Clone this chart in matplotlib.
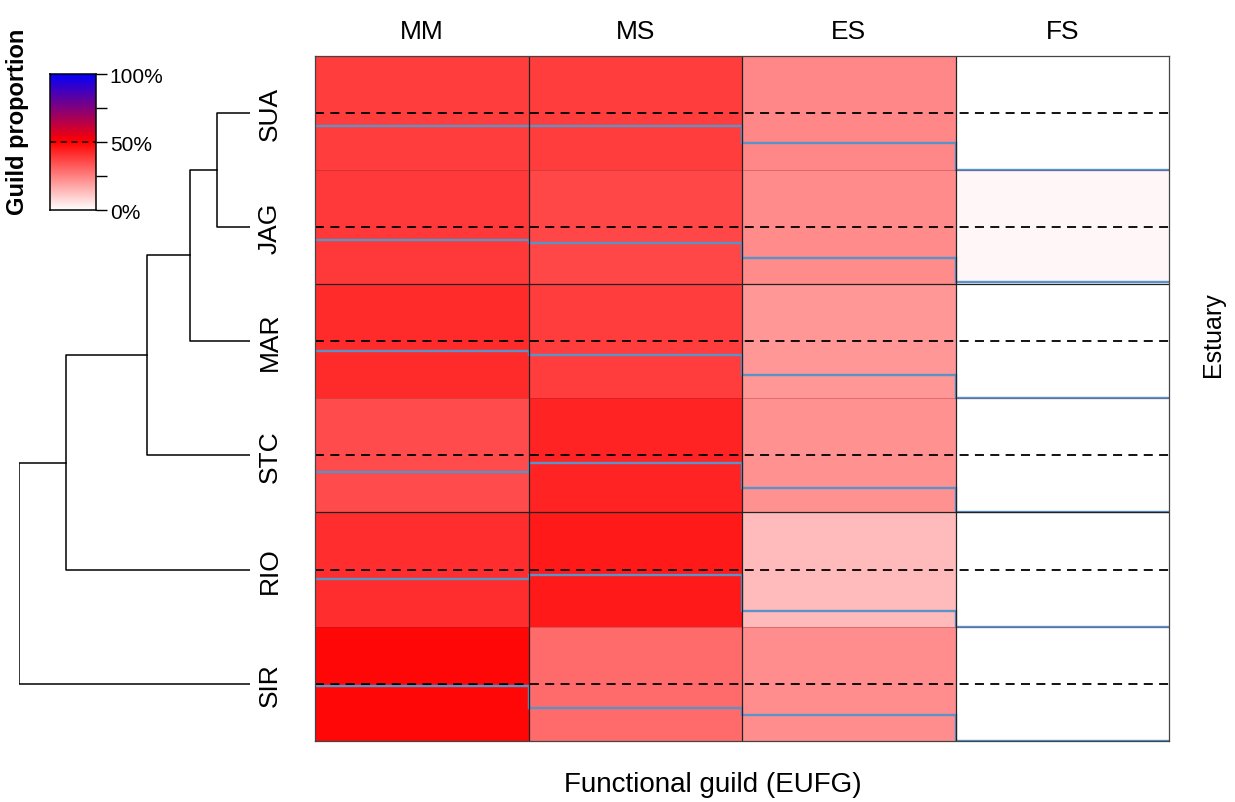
import numpy as np
import matplotlib.pyplot as plt
from matplotlib.colors import LinearSegmentedColormap

plt.rcParams['font.family'] = ['Liberation Sans', 'DejaVu Sans']

estuaries = ['SUA', 'JAG', 'MAR', 'STC', 'RIO', 'SIR']
guilds = ['MM', 'MS', 'ES', 'FS']

# proportion of each guild in every estuary (rows sum to ~1)
mm = [0.379, 0.388, 0.415, 0.355, 0.414, 0.485]
ms = [0.379, 0.361, 0.380, 0.430, 0.450, 0.290]
es = [0.236, 0.230, 0.205, 0.215, 0.136, 0.225]
fs = [0.000, 0.017, 0.000, 0.000, 0.000, 0.000]

# row dendrogram: (left id, right id, height); ids >= 6 are earlier merges
merges = [(0, 1, 0.143), (6, 2, 0.26), (7, 3, 0.446), (8, 4, 0.797), (9, 5, 1.0)]

key_ticks = [0, 0.25, 0.5, 0.75, 1.0]
key_labels = ['0%', '', '50%', '', '100%']

data = np.column_stack([mm, ms, es, fs])
nrow, ncol = data.shape
cmap = LinearSegmentedColormap.from_list('wrb', ['white', 'red', 'blue'])

fig = plt.figure(figsize=(12.35, 8.03), dpi=100)
fig.patch.set_facecolor('white')

hm_box = [0.2551, 0.0760, 0.6915, 0.8536]

# heatmap
ax = fig.add_axes(hm_box)
ax.pcolormesh(np.arange(ncol + 1), np.arange(nrow + 1), data,
              cmap=cmap, vmin=0, vmax=1)
ax.set_xlim(0, ncol)
ax.set_ylim(nrow, 0)
for c in range(1, ncol):
    ax.axvline(c, color='#222222', lw=0.9)
for r in range(1, nrow):
    if r % 2 == 0:
        ax.axhline(r, color='#222222', lw=0.9)
    else:
        ax.axhline(r, color='#8b1a1a', lw=0.6, alpha=0.35)
for i in range(nrow):
    ax.hlines(i + 0.5, 0, ncol, colors='k', linestyles=(0, (5, 3.5)), lw=1.3)
    ax.stairs(i + 1 - data[i], np.arange(ncol + 1), baseline=None,
              color='#5a93c8', lw=1.7)
for s in ax.spines.values():
    s.set_color('#444444')
    s.set_linewidth(0.9)

ax.xaxis.tick_top()
ax.set_xticks(np.arange(ncol) + 0.5, guilds, fontsize=19)
ax.set_yticks(np.arange(nrow) + 0.5, estuaries, fontsize=19,
              rotation=90, va='center')
ax.tick_params(axis='x', length=0, pad=9)
ax.tick_params(axis='y', length=0, pad=24)

# dendrogram
ad = fig.add_axes([0.0154, hm_box[1], 0.1870, hm_box[3]])
pos = {i: (0.0, i + 0.5) for i in range(nrow)}
for k, (a, b, h) in enumerate(merges):
    xa, ya = pos[a]
    xb, yb = pos[b]
    ad.plot([xa, h, h, xb], [ya, ya, yb, yb], color='k', lw=1.1)
    pos[nrow + k] = (h, (ya + yb) / 2)
ad.set_xlim(1.0, 0)
ad.set_ylim(nrow, 0)
ad.axis('off')

# colour key
ak = fig.add_axes([0.0405, 0.7372, 0.0372, 0.1694])
ak.imshow(np.linspace(0, 1, 256)[:, None], cmap=cmap, aspect='auto',
          origin='lower', extent=[0, 1, 0, 1], vmin=0, vmax=1)
ak.axhline(0.5, color='k', ls=(0, (4, 3)), lw=1.1)
ak.set_xlim(0, 1)
ak.set_ylim(0, 1)
ak.set_xticks([])
ak.yaxis.tick_right()
ak.set_yticks(key_ticks, key_labels, fontsize=15)
ak.tick_params(axis='y', length=8, width=1, pad=2)
for s in ak.spines.values():
    s.set_linewidth(1.1)

fig.text(18 / 1235, 1 - 122 / 803, 'Guild proportion', rotation=90,
         fontsize=17, fontweight='bold', ha='center', va='center')
fig.text(1213 / 1235, 1 - 335 / 803, 'Estuary', rotation=90,
         fontsize=18, ha='center', va='center')
fig.text(713 / 1235, 1 - 785 / 803, 'Functional guild (EUFG)',
         fontsize=20, ha='center', va='center')

fig.savefig('out.png', dpi=100, facecolor='white')
